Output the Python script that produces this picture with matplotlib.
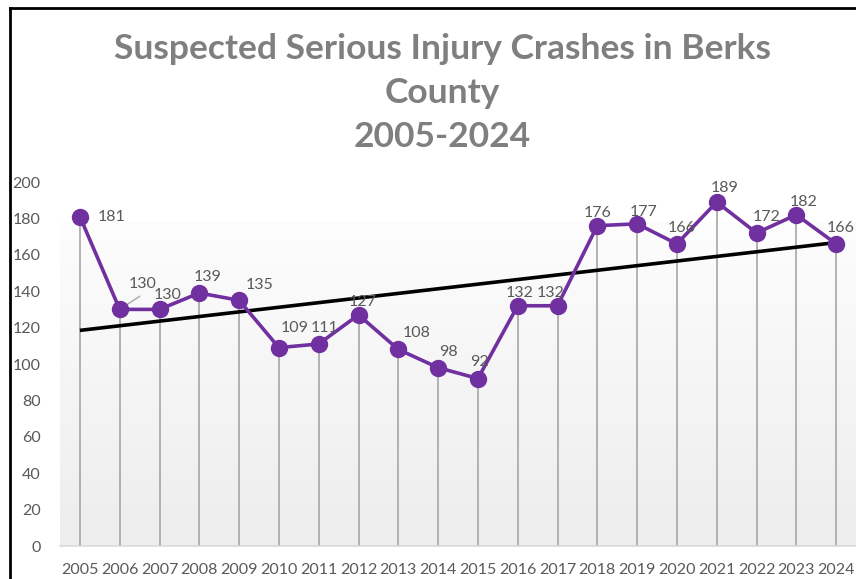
import numpy as np
import matplotlib

matplotlib.use("Agg")
import matplotlib.pyplot as plt
from matplotlib.colors import LinearSegmentedColormap

plt.rcParams["font.family"] = ["Lato", "DejaVu Sans"]

years = [str(y) for y in range(2005, 2025)]
crashes = [181, 130, 130, 139, 135, 109, 111, 127, 108, 98,
           92, 132, 132, 176, 177, 166, 189, 172, 182, 166]
title = "Suspected Serious Injury Crashes in Berks\nCounty\n2005-2024"

# label offsets in pixels (dx, dy) from each marker
label_offsets = [(32, 0), (23, 25), (8, 14), (8, 16), (20, 15),
                 (16, 20), (6, 16), (4, 13), (18, 16), (10, 16),
                 (2, 17), (2, 13), (-7, 13), (0, 13), (6, 12),
                 (5, 16), (8, 14), (10, 16), (7, 13), (5, 16)]

PURPLE = "#7030a0"
GRAY_TXT = "#595959"

fig = plt.figure(figsize=(8.56, 5.79), dpi=100)
ax = fig.add_axes([60 / 856, 33 / 579, 796 / 856, 364 / 579])

x = np.arange(len(years))
ax.set_xlim(-0.5, len(years) - 0.5)
ax.set_ylim(0, 200)

# gradient plot area background
grad = np.linspace(0, 1, 256).reshape(-1, 1)
cmap = LinearSegmentedColormap.from_list("bg", ["#ededed", "#fdfdfd"])
ax.imshow(grad, cmap=cmap, aspect="auto", origin="lower",
          extent=(-0.5, len(years) - 0.5, 0, 178), zorder=0)

# drop lines
ax.vlines(x, 0, crashes, color="#a6a6a6", lw=1.2, zorder=1)

# trendline
coef = np.polyfit(x, crashes, 1)
ax.plot(x, np.polyval(coef, x), color="black", lw=2.6, zorder=3,
        solid_capstyle="butt")

ax.plot(x, crashes, color=PURPLE, lw=2.6, marker="o", ms=11.5,
        zorder=4)

for i, (v, (dx, dy)) in enumerate(zip(crashes, label_offsets)):
    ax.annotate(str(v), (i, v), xytext=(dx * 0.72, dy * 0.72),
                textcoords="offset points", ha="center", va="center",
                fontsize=11.5, color=GRAY_TXT, zorder=5)
# leader line for 2006
ax.annotate("", (1, crashes[1]), xytext=(14.5, 9.5),
            textcoords="offset points",
            arrowprops=dict(arrowstyle="-", color="#a6a6a6", lw=1,
                            shrinkA=0, shrinkB=0), zorder=2)

ax.set_xticks(x)
ax.set_xticklabels(years)
ax.set_yticks(range(0, 201, 20))
ax.tick_params(axis="both", length=0, labelsize=11.5, labelcolor=GRAY_TXT)
ax.tick_params(axis="x", pad=12)
ax.tick_params(axis="y", pad=14)
for side in ["top", "right", "left"]:
    ax.spines[side].set_visible(False)
ax.spines["bottom"].set_color("#d9d9d9")
ax.spines["bottom"].set_linewidth(1.2)

fig.text(442 / 856, 1 - 93 / 579, title, ha="center", va="center",
         fontsize=25.5, fontweight="bold", color="#7f7f7f", linespacing=1.45)

# chart border (left and top visible)
fig.add_artist(plt.Line2D([10 / 856, 10 / 856], [0, 1 - 8 / 579],
                          color="black", lw=2, transform=fig.transFigure))
fig.add_artist(plt.Line2D([10 / 856, 1], [1 - 8 / 579, 1 - 8 / 579],
                          color="black", lw=2, transform=fig.transFigure))

fig.savefig("out.png", dpi=100)
